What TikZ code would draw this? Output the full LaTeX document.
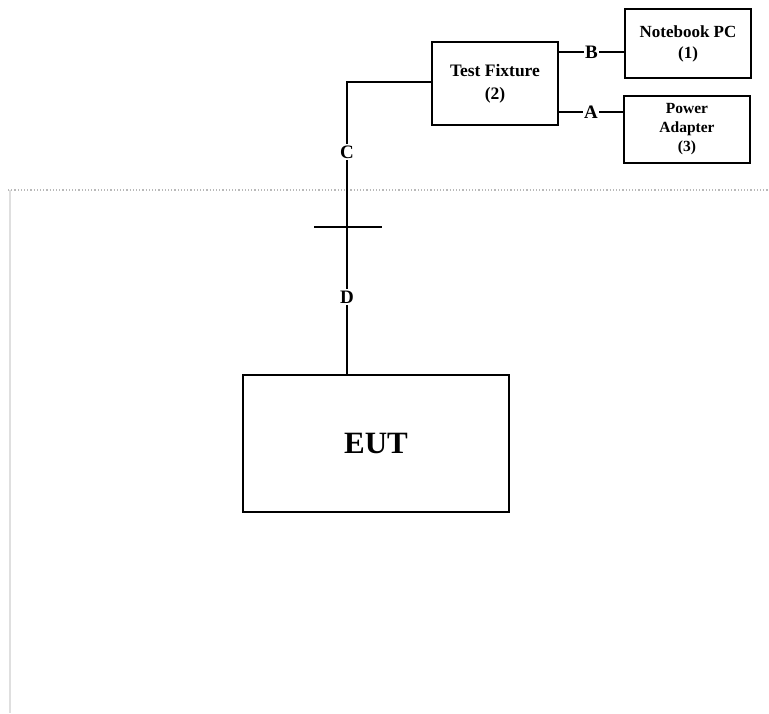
\documentclass[tikz,border=0pt]{standalone}
\usepackage{fontspec}
\setmainfont{Liberation Serif}
\begin{document}
\begin{tikzpicture}[x=1pt,y=-1pt,
  box/.style={draw=black,line width=1.6pt,fill=white,inner sep=0pt,align=center,font=\bfseries},
  wire/.style={draw=black,line width=1.6pt},
  lbl/.style={fill=white,inner sep=1.5pt,font=\fontsize{19}{20}\selectfont\bfseries}]
\useasboundingbox (0,0) rectangle (769,713);
% background frame
\draw[gray!55,line width=1.2pt,dotted] (8,190) -- (769,190);
\draw[gray!25,line width=2pt] (10,190) -- (10,713);
% nodes
\node[box,minimum width=126pt,minimum height=83pt,font=\fontsize{17.5}{23}\selectfont\bfseries] (tf) at (495,83.5) {Test Fixture\\(2)};
\node[box,minimum width=126pt,minimum height=69pt,font=\fontsize{17}{21}\selectfont\bfseries] (nb) at (688,43.5) {Notebook PC\\(1)};
\node[box,minimum width=126pt,minimum height=67pt,font=\fontsize{15.5}{19}\selectfont\bfseries] (pa) at (687,129.5) {Power\\Adapter\\(3)};
\node[box,minimum width=266pt,minimum height=137pt,font=\fontsize{31}{32}\selectfont\bfseries] (eut) at (376,443.5) {EUT};
% helper coordinates
\coordinate (bY) at (0,52);
\coordinate (aY) at (0,112);
\coordinate (corner) at (347,82);
\coordinate (crossL) at (314,227);
\coordinate (crossR) at (382,227);
% connectors
\draw[wire] (tf.east |- bY) -- (nb.west |- bY) node[lbl,midway] (B) {B};
\draw[wire] (tf.east |- aY) -- (pa.west |- aY) node[lbl,midway] (A) {A};
\draw[wire] (tf.west |- corner) -- (corner) -- (corner |- eut.north);
\draw[wire] (crossL) -- (crossR);
\node[lbl] (C) at (347,152) {C};
\node[lbl] (D) at (347,297) {D};
\end{tikzpicture}
\end{document}
